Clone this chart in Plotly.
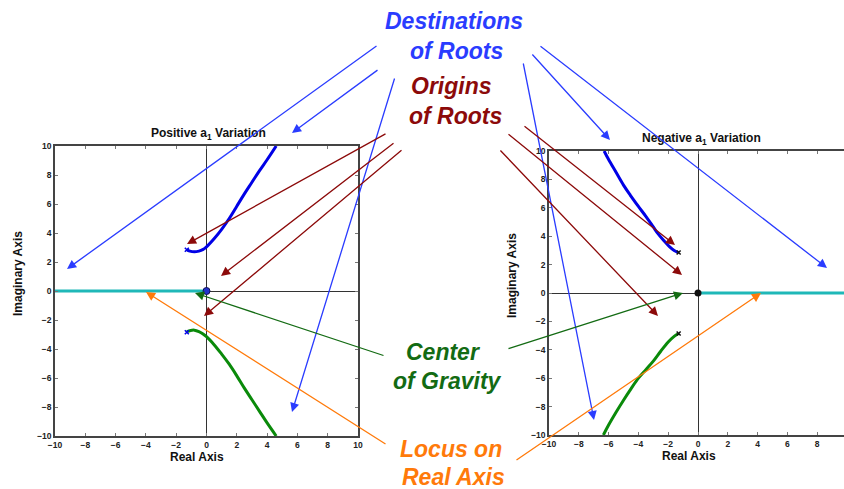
import plotly.graph_objects as go

# ---- root-locus branches (real, imaginary) ----
pos_upper_re = [-1.3, -1.1, -0.8, -0.5, -0.25, 0.0, 0.5, 1.0, 1.5, 2.0, 2.5, 3.0, 3.5, 4.0, 4.6]
pos_upper_im = [2.85, 2.75, 2.7, 2.75, 2.85, 3.05, 3.6, 4.25, 5.0, 5.85, 6.7, 7.5, 8.3, 9.05, 10.0]
pos_lower_re = [-1.3, -1.05, -0.8, -0.5, -0.25, 0.0, 0.5, 1.0, 1.5, 2.0, 2.5, 3.0, 3.5, 4.0, 4.6]
pos_lower_im = [-2.8, -2.72, -2.7, -2.8, -2.95, -3.15, -3.7, -4.35, -5.05, -5.85, -6.7, -7.5, -8.3, -9.1, -10.0]

neg_upper_re = [-1.3, -1.6, -1.9, -2.3, -2.7, -3.0, -3.5, -4.0, -4.55, -5.0, -5.5, -6.0, -6.3]
neg_upper_im = [2.85, 3.0, 3.25, 3.7, 4.2, 4.65, 5.4, 6.1, 6.9, 7.6, 8.5, 9.4, 10.0]
neg_lower_re = [-1.3, -1.6, -2.0, -2.5, -3.0, -3.5, -4.0, -4.5, -5.0, -5.5, -6.0, -6.35]
neg_lower_im = [-2.85, -3.05, -3.45, -4.1, -4.8, -5.4, -6.0, -6.75, -7.55, -8.4, -9.3, -10.0]

# open-loop poles (start of the complex branches) and the pole at the origin
pole_re = [-1.3, -1.3]
pole_im = [2.85, -2.85]
origin_re = [0.0]
origin_im = [0.0]

# real-axis segments of the locus
pos_real_re = [-10, 0]
neg_real_re = [0, 10]
real_im = [0, 0]

tick_vals = [-10, -8, -6, -4, -2, 0, 2, 4, 6, 8, 10]
tick_text = ["\u221210", "\u22128", "\u22126", "\u22124", "\u22122", "0", "2", "4", "6", "8", "10"]

W, H = 844, 489
FONT = "Liberation Sans, Arial, Helvetica, sans-serif"

BLUE_LOCUS = "#0000e6"
GREEN_LOCUS = "#0a8a0a"
CYAN = "#1fb8b8"

fig = go.Figure()

# Positive a1 panel
fig.add_trace(go.Scatter(x=pos_real_re, y=real_im, mode="lines",
                         line=dict(color=CYAN, width=3), xaxis="x", yaxis="y"))
fig.add_trace(go.Scatter(x=pos_upper_re, y=pos_upper_im, mode="lines",
                         line=dict(color=BLUE_LOCUS, width=3, shape="spline"), xaxis="x", yaxis="y"))
fig.add_trace(go.Scatter(x=pos_lower_re, y=pos_lower_im, mode="lines",
                         line=dict(color=GREEN_LOCUS, width=3, shape="spline"), xaxis="x", yaxis="y"))
fig.add_trace(go.Scatter(x=pole_re, y=pole_im, mode="markers",
                         marker=dict(symbol="x-thin", size=4, line=dict(color=BLUE_LOCUS, width=1.5)),
                         xaxis="x", yaxis="y"))
fig.add_trace(go.Scatter(x=origin_re, y=origin_im, mode="markers",
                         marker=dict(symbol="circle", size=7, color="#2233cc", line=dict(color="#111155", width=1)),
                         xaxis="x", yaxis="y"))

# Negative a1 panel
fig.add_trace(go.Scatter(x=neg_real_re, y=real_im, mode="lines",
                         line=dict(color=CYAN, width=3), xaxis="x2", yaxis="y2"))
fig.add_trace(go.Scatter(x=neg_upper_re, y=neg_upper_im, mode="lines",
                         line=dict(color=BLUE_LOCUS, width=3, shape="spline"), xaxis="x2", yaxis="y2"))
fig.add_trace(go.Scatter(x=neg_lower_re, y=neg_lower_im, mode="lines",
                         line=dict(color=GREEN_LOCUS, width=3, shape="spline"), xaxis="x2", yaxis="y2"))
fig.add_trace(go.Scatter(x=pole_re, y=pole_im, mode="markers",
                         marker=dict(symbol="x-thin", size=4, line=dict(color="#111111", width=1.5)),
                         xaxis="x2", yaxis="y2"))
fig.add_trace(go.Scatter(x=origin_re, y=origin_im, mode="markers",
                         marker=dict(symbol="circle", size=7, color="#111111"),
                         xaxis="x2", yaxis="y2"))


def axis_style(**kw):
    base = dict(
        tickvals=tick_vals, ticktext=tick_text, ticks="inside", ticklen=3,
        tickcolor="#777777", tickwidth=1,
        tickfont=dict(family=FONT, size=8.5, color="#222222", weight="bold"),
        showline=True, linecolor="#444444", linewidth=1.5,
        showgrid=False, zeroline=True, zerolinecolor="#333333", zerolinewidth=1,
        fixedrange=True, automargin=False,
    )
    base.update(kw)
    return base


fig.update_layout(
    width=W, height=H, margin=dict(l=0, r=0, t=0, b=0, pad=0, autoexpand=False),
    paper_bgcolor="white", plot_bgcolor="white", showlegend=False,
    xaxis=axis_style(domain=[55 / W, 358 / W], range=[-10, 10], mirror="ticks", anchor="y"),
    yaxis=axis_style(domain=[1 - 436 / H, 1 - 146 / H], range=[-10, 10], mirror="ticks", anchor="x"),
    xaxis2=axis_style(domain=[549 / W, 1.0], range=[-10, -10 + 20 * (844 - 549) / (847 - 549)],
                      mirror="ticks", anchor="y2"),
    yaxis2=axis_style(domain=[1 - 435 / H, 1 - 151 / H], range=[-10, 10], mirror=False, anchor="x2"),
)


def label(text, x, y, size, color="#111111", angle=0, italic=False):
    fig.add_annotation(
        text=text, x=x / W, y=1 - y / H, xref="paper", yref="paper",
        xanchor="center", yanchor="middle", showarrow=False, textangle=angle,
        font=dict(family=FONT, size=size, color=color, weight="bold",
                  style="italic" if italic else "normal"),
    )


# panel titles and axis titles
label("Positive a<sub>1</sub> Variation", 208, 134, 12)
label("Negative a<sub>1</sub> Variation", 701, 139, 12)
label("Real Axis", 197, 457, 12)
label("Real Axis", 689, 456, 12)
label("Imaginary Axis", 18, 274, 12, angle=-90)
label("Imaginary Axis", 512, 276, 12, angle=-90)

# callout captions
C_BLUE = "#2a3cff"
C_RED = "#8c0a0a"
C_GREEN = "#136b13"
C_ORANGE = "#ff7a0a"

label("Destinations", 454, 21, 23, C_BLUE, italic=True)
label("of Roots", 457, 51, 23, C_BLUE, italic=True)
label("Origins", 451, 86, 23, C_RED, italic=True)
label("of Roots", 455, 116, 23, C_RED, italic=True)
label("Center", 443, 352, 23, C_GREEN, italic=True)
label("of Gravity", 447, 381, 23, C_GREEN, italic=True)
label("Locus on", 451, 449, 23, C_ORANGE, italic=True)
label("Real Axis", 454, 477, 23, C_ORANGE, italic=True)

# callout arrows: (tail x, tail y, tip x, tip y) in page pixels
callouts = {
    C_BLUE: [(378, 45, 67, 269), (379, 69, 292, 133), (395, 77, 292, 412),
             (539, 45, 827, 268), (531, 53, 610, 140), (523, 62, 594, 420)],
    C_RED: [(387, 133, 187, 244), (395, 142, 221, 276), (403, 149, 204, 316),
            (523, 125, 675, 245), (507, 133, 682, 275), (499, 149, 658, 316)],
    C_GREEN: [(385, 356, 195, 293), (507, 349, 683, 293)],
    C_ORANGE: [(387, 445, 146, 292), (515, 461, 761, 293)],
}

for color, arrows in callouts.items():
    for sx, sy, tx, ty in arrows:
        fig.add_annotation(
            x=tx / W, y=1 - ty / H, xref="paper", yref="paper",
            ax=sx - tx, ay=sy - ty, axref="pixel", ayref="pixel",
            text="", showarrow=True, arrowhead=2, arrowsize=1.4, arrowwidth=1.3,
            arrowcolor=color, standoff=0,
        )

fig.write_html("out.html")
